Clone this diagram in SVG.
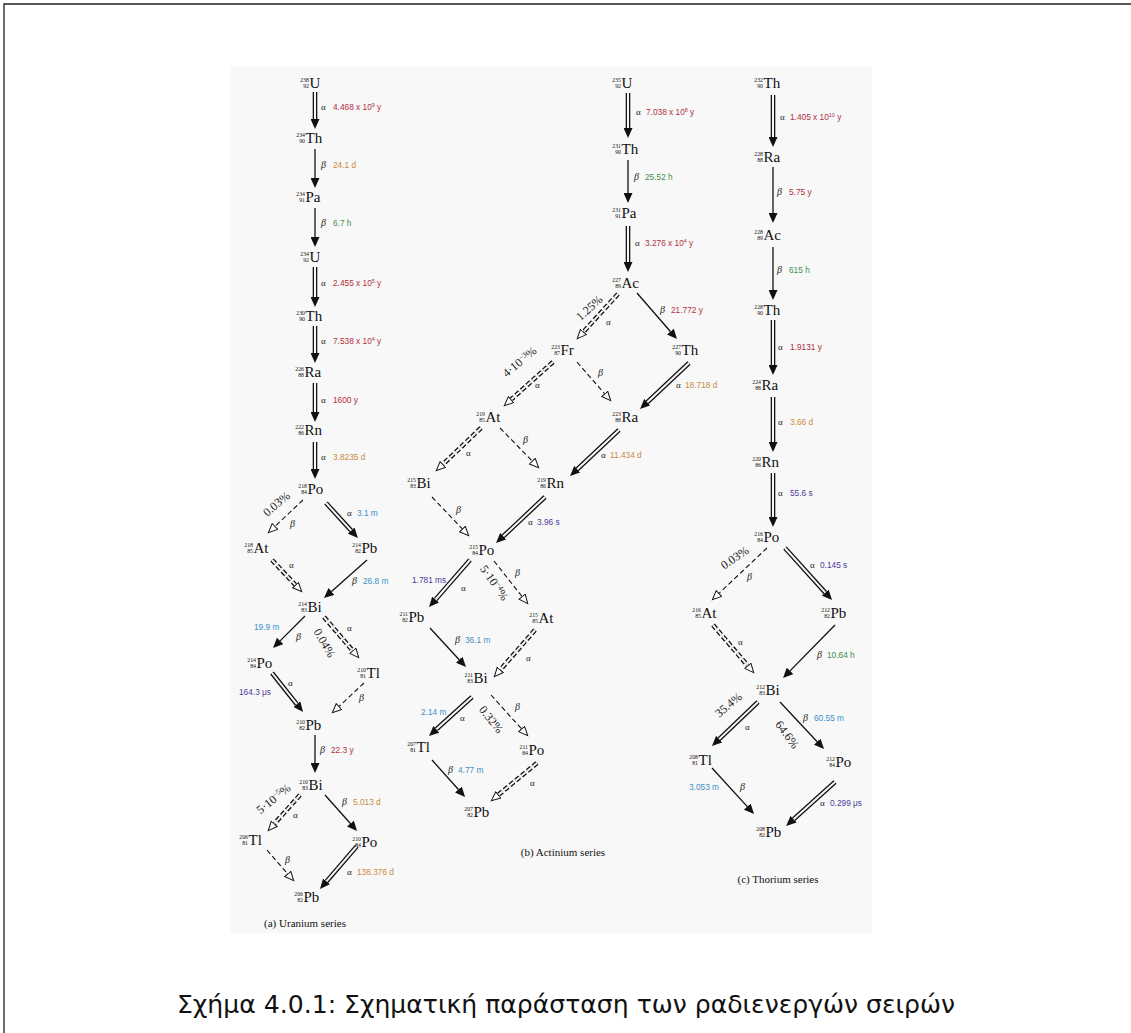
<svg xmlns="http://www.w3.org/2000/svg" width="1131" height="1033" viewBox="0 0 1131 1033">
<style>
.s{font-family:"Liberation Serif",serif;font-size:15px;fill:#111}
.m,.z{font-family:"Liberation Serif",serif;font-size:5.8px;text-anchor:end;fill:#111}
.g{font-family:"Liberation Serif",serif;font-size:9px;fill:#222}
.gb{font-family:"Liberation Serif",serif;font-size:10px;font-style:italic;fill:#222}
.t{font-family:"Liberation Sans",sans-serif;font-size:8.3px}
.sp{font-size:5.5px}
.r{fill:#b0303c}.o{fill:#c98a3c}.gr{fill:#3f8f4f}.bl{fill:#3b8fc8}.pu{fill:#4b3b9b}
.p{font-family:"Liberation Serif",serif;font-size:12px;text-anchor:middle;fill:#222}
.cap{font-family:"Liberation Serif",serif;font-size:11px;text-anchor:middle;fill:#111}
.ao{stroke:#111;stroke-width:4.6;fill:none;marker-end:url(#hf)}
.ai{stroke:#f8f8f8;stroke-width:2;fill:none}
.aod{stroke:#111;stroke-width:4.6;fill:none;stroke-dasharray:5 2.5;marker-end:url(#ho)}
.aid{stroke:#f8f8f8;stroke-width:2;fill:none;stroke-dasharray:5 2.5}
.b{stroke:#111;stroke-width:1.3;fill:none;marker-end:url(#hf)}
.bd{stroke:#111;stroke-width:1.1;fill:none;stroke-dasharray:5 3;marker-end:url(#ho)}
</style>
<defs>
<marker id="hf" markerUnits="userSpaceOnUse" markerWidth="11" markerHeight="9" refX="0" refY="4.5" orient="auto"><path d="M0,0 L10,4.5 L0,9 z" fill="#111"/></marker>
<marker id="ho" markerUnits="userSpaceOnUse" markerWidth="11" markerHeight="10" refX="0" refY="4.5" orient="auto"><path d="M0.5,0.5 L9.5,4.5 L0.5,8.5 z" fill="#fff" stroke="#111" stroke-width="1"/></marker>
</defs>
<rect x="0" y="0" width="1131" height="1033" fill="#fff"/>
<path d="M4,1033 V4 H1131" fill="none" stroke="#222" stroke-width="1.3"/>
<rect x="230" y="66" width="642" height="867" fill="#f8f8f8"/>

<g id="connectors">
<!-- Uranium -->
<line class="ao" x1="315" y1="92" x2="315" y2="119"/><line class="ai" x1="315" y1="92" x2="315" y2="119"/>
<line class="b" x1="315" y1="149" x2="315" y2="178"/>
<line class="b" x1="315" y1="208" x2="315" y2="237"/>
<line class="ao" x1="315" y1="267" x2="315" y2="297"/><line class="ai" x1="315" y1="267" x2="315" y2="297"/>
<line class="ao" x1="315" y1="326" x2="315" y2="353"/><line class="ai" x1="315" y1="326" x2="315" y2="353"/>
<line class="ao" x1="315" y1="383" x2="315" y2="412"/><line class="ai" x1="315" y1="383" x2="315" y2="412"/>
<line class="ao" x1="315" y1="442" x2="315" y2="469"/><line class="ai" x1="315" y1="442" x2="315" y2="469"/>
<line class="bd" x1="303" y1="500" x2="275.3" y2="526.1"/>
<line class="ao" x1="326" y1="503" x2="351.2" y2="530.6"/><line class="ai" x1="326" y1="503" x2="351.2" y2="530.6"/>
<line class="aod" x1="272" y1="560" x2="295.2" y2="584.7"/><line class="aid" x1="272" y1="560" x2="295.2" y2="584.7"/>
<line class="b" x1="367" y1="560" x2="331.5" y2="591.4"/>
<line class="b" x1="305" y1="616" x2="280.1" y2="640.9"/>
<line class="aod" x1="324" y1="617" x2="352.5" y2="650.4"/><line class="aid" x1="324" y1="617" x2="352.5" y2="650.4"/>
<line class="ao" x1="272" y1="673" x2="296.8" y2="704.2"/><line class="ai" x1="272" y1="673" x2="296.8" y2="704.2"/>
<line class="bd" x1="364" y1="683" x2="339.3" y2="706.2"/>
<line class="b" x1="315" y1="735" x2="315" y2="763"/>
<line class="aod" x1="300" y1="795" x2="274.6" y2="823.5"/><line class="aid" x1="300" y1="795" x2="274.6" y2="823.5"/>
<line class="b" x1="325" y1="795" x2="350.4" y2="823.5"/>
<line class="bd" x1="267" y1="850" x2="287.4" y2="873.5"/>
<line class="ao" x1="357" y1="846" x2="326.5" y2="881.4"/><line class="ai" x1="357" y1="846" x2="326.5" y2="881.4"/>
<!-- Actinium -->
<line class="ao" x1="628" y1="93" x2="628" y2="128"/><line class="ai" x1="628" y1="93" x2="628" y2="128"/>
<line class="b" x1="628" y1="160" x2="628" y2="193"/>
<line class="ao" x1="628" y1="226" x2="628" y2="262"/><line class="ai" x1="628" y1="226" x2="628" y2="262"/>
<line class="aod" x1="618" y1="294" x2="583.7" y2="331.6"/><line class="aid" x1="618" y1="294" x2="583.7" y2="331.6"/>
<line class="b" x1="637" y1="293" x2="670.4" y2="331.5"/>
<line class="aod" x1="553" y1="362" x2="511.4" y2="399.3"/><line class="aid" x1="553" y1="362" x2="511.4" y2="399.3"/>
<line class="bd" x1="577" y1="362" x2="604.4" y2="393.5"/>
<line class="ao" x1="689" y1="363" x2="647.3" y2="402.2"/><line class="ai" x1="689" y1="363" x2="647.3" y2="402.2"/>
<line class="aod" x1="481" y1="428" x2="443.2" y2="464.1"/><line class="aid" x1="481" y1="428" x2="443.2" y2="464.1"/>
<line class="bd" x1="500" y1="428" x2="532" y2="460.8"/>
<line class="ao" x1="619" y1="430" x2="577.3" y2="469.2"/><line class="ai" x1="619" y1="430" x2="577.3" y2="469.2"/>
<line class="bd" x1="432" y1="497" x2="462.1" y2="528.7"/>
<line class="ao" x1="545" y1="497" x2="503.3" y2="536.2"/><line class="ai" x1="545" y1="497" x2="503.3" y2="536.2"/>
<line class="ao" x1="470" y1="560" x2="435.6" y2="599.5"/><line class="ai" x1="470" y1="560" x2="435.6" y2="599.5"/>
<line class="bd" x1="494" y1="561" x2="521.8" y2="596.2"/>
<line class="b" x1="430" y1="628" x2="459.2" y2="659.7"/>
<line class="aod" x1="535" y1="630" x2="500.6" y2="669.5"/><line class="aid" x1="535" y1="630" x2="500.6" y2="669.5"/>
<line class="ao" x1="472" y1="697" x2="436.4" y2="729.3"/><line class="ai" x1="472" y1="697" x2="436.4" y2="729.3"/>
<line class="bd" x1="491" y1="695" x2="521.3" y2="728.6"/>
<line class="b" x1="432" y1="760" x2="458.4" y2="789.5"/>
<line class="aod" x1="537" y1="763" x2="498.7" y2="794.6"/><line class="aid" x1="537" y1="763" x2="498.7" y2="794.6"/>
<!-- Thorium -->
<line class="ao" x1="773" y1="95" x2="773" y2="137"/><line class="ai" x1="773" y1="95" x2="773" y2="137"/>
<line class="b" x1="773" y1="167" x2="773" y2="213"/>
<line class="b" x1="773" y1="247" x2="773" y2="290"/>
<line class="ao" x1="773" y1="320" x2="773" y2="365"/><line class="ai" x1="773" y1="320" x2="773" y2="365"/>
<line class="ao" x1="773" y1="397" x2="773" y2="442"/><line class="ai" x1="773" y1="397" x2="773" y2="442"/>
<line class="ao" x1="773" y1="473" x2="773" y2="517"/><line class="ai" x1="773" y1="473" x2="773" y2="517"/>
<line class="bd" x1="767" y1="548" x2="719.3" y2="593.1"/>
<line class="ao" x1="785" y1="548" x2="825.3" y2="592.6"/><line class="ai" x1="785" y1="548" x2="825.3" y2="592.6"/>
<line class="aod" x1="713" y1="625" x2="747.5" y2="665.4"/><line class="aid" x1="713" y1="625" x2="747.5" y2="665.4"/>
<line class="b" x1="835" y1="625" x2="790" y2="670.9"/>
<line class="ao" x1="758" y1="702" x2="719.2" y2="739.1"/><line class="ai" x1="758" y1="702" x2="719.2" y2="739.1"/>
<line class="b" x1="780" y1="702" x2="817.2" y2="741.7"/>
<line class="b" x1="712" y1="768" x2="747.3" y2="806.6"/>
<line class="ao" x1="835" y1="782" x2="793.6" y2="819.2"/><line class="ai" x1="835" y1="782" x2="793.6" y2="819.2"/>
</g>

<g id="connector-labels">
<!-- Uranium -->
<text class="g" x="321" y="110">α</text><text class="t r" x="333" y="110">4.468 x 10<tspan class="sp" dy="-3">9</tspan><tspan dy="3"> y</tspan></text>
<text class="gb" x="321" y="168">β</text><text class="t o" x="333" y="168">24.1 d</text>
<text class="gb" x="321" y="226">β</text><text class="t gr" x="333" y="226">6.7 h</text>
<text class="g" x="321" y="286">α</text><text class="t r" x="333" y="286">2.455 x 10<tspan class="sp" dy="-3">5</tspan><tspan dy="3"> y</tspan></text>
<text class="g" x="321" y="344">α</text><text class="t r" x="333" y="344">7.538 x 10<tspan class="sp" dy="-3">4</tspan><tspan dy="3"> y</tspan></text>
<text class="g" x="321" y="403">α</text><text class="t r" x="333" y="403">1600 y</text>
<text class="g" x="321" y="460">α</text><text class="t o" x="333" y="460">3.8235 d</text>
<text class="p" transform="translate(279,507) rotate(-40)">0.03%</text>
<text class="gb" x="290" y="527">β</text>
<text class="g" x="347" y="516">α</text><text class="t bl" x="357" y="516">3.1 m</text>
<text class="g" x="289" y="568">α</text>
<text class="gb" x="352" y="584">β</text><text class="t bl" x="363" y="584">26.8 m</text>
<text class="t bl" x="254" y="630">19.9 m</text>
<text class="gb" x="296" y="640">β</text>
<text class="p" transform="translate(321,645) rotate(60)">0.04%</text>
<text class="g" x="347" y="631">α</text>
<text class="t pu" x="239" y="695">164.3 μs</text>
<text class="g" x="288" y="686">α</text>
<text class="gb" x="359" y="701">β</text>
<text class="gb" x="320" y="753">β</text><text class="t r" x="331" y="753">22.3 y</text>
<text class="p" transform="translate(276,802) rotate(-39)">5·10<tspan font-size="7.5" dy="-4">−5</tspan><tspan dy="4">%</tspan></text>
<text class="g" x="293" y="818">α</text>
<text class="gb" x="342" y="805">β</text><text class="t o" x="353" y="805">5.013 d</text>
<text class="gb" x="285" y="863">β</text>
<text class="g" x="347" y="875">α</text><text class="t o" x="357" y="875">138.376 d</text>
<!-- Actinium -->
<text class="g" x="636" y="115">α</text><text class="t r" x="646" y="115">7.038 x 10<tspan class="sp" dy="-3">8</tspan><tspan dy="3"> y</tspan></text>
<text class="gb" x="634" y="180">β</text><text class="t gr" x="645" y="180">25.52 h</text>
<text class="g" x="635" y="246">α</text><text class="t r" x="645" y="246">3.276 x 10<tspan class="sp" dy="-3">4</tspan><tspan dy="3"> y</tspan></text>
<text class="p" transform="translate(592,311) rotate(-42)">1.25%</text>
<text class="g" x="606" y="325">α</text>
<text class="gb" x="660" y="313">β</text><text class="t r" x="671" y="313">21.772 y</text>
<text class="p" transform="translate(522,365) rotate(-40)">4·10<tspan font-size="7.5" dy="-4">−3</tspan><tspan dy="4">%</tspan></text>
<text class="g" x="535" y="388">α</text>
<text class="gb" x="598" y="376">β</text>
<text class="g" x="676" y="388">α</text><text class="t o" x="685" y="388">18.718 d</text>
<text class="g" x="466" y="456">α</text>
<text class="gb" x="523" y="443">β</text>
<text class="g" x="601" y="458">α</text><text class="t o" x="610" y="458">11.434 d</text>
<text class="gb" x="456" y="513">β</text>
<text class="g" x="528" y="525">α</text><text class="t pu" x="537" y="525">3.96 s</text>
<text class="t pu" x="412" y="583">1.781 ms</text>
<text class="g" x="461" y="591">α</text>
<text class="p" transform="translate(491,585) rotate(55)">5·10<tspan font-size="7.5" dy="-4">−4</tspan><tspan dy="4">%</tspan></text>
<text class="gb" x="515" y="576">β</text>
<text class="gb" x="455" y="643">β</text><text class="t bl" x="465" y="643">36.1 m</text>
<text class="g" x="526" y="661">α</text>
<text class="t bl" x="421" y="715">2.14 m</text>
<text class="g" x="460" y="721">α</text>
<text class="p" transform="translate(488,722) rotate(52)">0.32%</text>
<text class="gb" x="515" y="710">β</text>
<text class="gb" x="448" y="773">β</text><text class="t bl" x="458" y="773">4.77 m</text>
<text class="g" x="530" y="786">α</text>
<!-- Thorium -->
<text class="g" x="780" y="120">α</text><text class="t r" x="790" y="120">1.405 x 10<tspan class="sp" dy="-3">10</tspan><tspan dy="3"> y</tspan></text>
<text class="gb" x="777" y="195">β</text><text class="t r" x="789" y="195">5.75 y</text>
<text class="gb" x="777" y="273">β</text><text class="t gr" x="789" y="273">615 h</text>
<text class="g" x="778" y="350">α</text><text class="t r" x="790" y="350">1.9131 y</text>
<text class="g" x="778" y="425">α</text><text class="t o" x="790" y="425">3.66 d</text>
<text class="g" x="778" y="496">α</text><text class="t pu" x="790" y="496">55.6 s</text>
<text class="p" transform="translate(737,561) rotate(-34)">0.03%</text>
<text class="gb" x="747" y="580">β</text>
<text class="g" x="810" y="568">α</text><text class="t pu" x="820" y="568">0.145 s</text>
<text class="g" x="738" y="645">α</text>
<text class="gb" x="817" y="658">β</text><text class="t gr" x="827" y="658">10.64 h</text>
<text class="p" transform="translate(731,708) rotate(-40)">35.4%</text>
<text class="g" x="745" y="730">α</text>
<text class="p" transform="translate(784,737) rotate(53)">64.6%</text>
<text class="gb" x="803" y="721">β</text><text class="t bl" x="814" y="721">60.55 m</text>
<text class="t bl" x="689" y="790">3.053 m</text>
<text class="gb" x="740" y="790">β</text>
<text class="g" x="820" y="806">α</text><text class="t pu" x="830" y="806">0.299 μs</text>
</g>

<!-- Uranium nodes -->
<g id="n-u238" transform="translate(300,83)"><text class="m" x="9" y="-1.5">238</text><text class="z" x="9" y="5">92</text><text class="s" x="9.5" y="5">U</text></g>
<g id="n-th234" transform="translate(296,138)"><text class="m" x="9" y="-1.5">234</text><text class="z" x="9" y="5">90</text><text class="s" x="9.5" y="5">Th</text></g>
<g id="n-pa234" transform="translate(296,197)"><text class="m" x="9" y="-1.5">234</text><text class="z" x="9" y="5">91</text><text class="s" x="9.5" y="5">Pa</text></g>
<g id="n-u234" transform="translate(300,257)"><text class="m" x="9" y="-1.5">234</text><text class="z" x="9" y="5">92</text><text class="s" x="9.5" y="5">U</text></g>
<g id="n-th230" transform="translate(296,316)"><text class="m" x="9" y="-1.5">230</text><text class="z" x="9" y="5">90</text><text class="s" x="9.5" y="5">Th</text></g>
<g id="n-ra226" transform="translate(295,372)"><text class="m" x="9" y="-1.5">226</text><text class="z" x="9" y="5">88</text><text class="s" x="9.5" y="5">Ra</text></g>
<g id="n-rn222" transform="translate(295,430)"><text class="m" x="9" y="-1.5">222</text><text class="z" x="9" y="5">86</text><text class="s" x="9.5" y="5">Rn</text></g>
<g id="n-po218" transform="translate(298,489)"><text class="m" x="9" y="-1.5">218</text><text class="z" x="9" y="5">84</text><text class="s" x="9.5" y="5">Po</text></g>
<g id="n-at218" transform="translate(244,548)"><text class="m" x="9" y="-1.5">218</text><text class="z" x="9" y="5">85</text><text class="s" x="9.5" y="5">At</text></g>
<g id="n-pb214" transform="translate(352,548)"><text class="m" x="9" y="-1.5">214</text><text class="z" x="9" y="5">82</text><text class="s" x="9.5" y="5">Pb</text></g>
<g id="n-bi214" transform="translate(298,607)"><text class="m" x="9" y="-1.5">214</text><text class="z" x="9" y="5">83</text><text class="s" x="9.5" y="5">Bi</text></g>
<g id="n-po214" transform="translate(247,663)"><text class="m" x="9" y="-1.5">214</text><text class="z" x="9" y="5">84</text><text class="s" x="9.5" y="5">Po</text></g>
<g id="n-tl210" transform="translate(357,673)"><text class="m" x="9" y="-1.5">210</text><text class="z" x="9" y="5">81</text><text class="s" x="9.5" y="5">Tl</text></g>
<g id="n-pb210" transform="translate(296,725)"><text class="m" x="9" y="-1.5">210</text><text class="z" x="9" y="5">82</text><text class="s" x="9.5" y="5">Pb</text></g>
<g id="n-bi210" transform="translate(299,785)"><text class="m" x="9" y="-1.5">210</text><text class="z" x="9" y="5">83</text><text class="s" x="9.5" y="5">Bi</text></g>
<g id="n-tl206" transform="translate(239,840)"><text class="m" x="9" y="-1.5">206</text><text class="z" x="9" y="5">81</text><text class="s" x="9.5" y="5">Tl</text></g>
<g id="n-po210" transform="translate(352,842)"><text class="m" x="9" y="-1.5">210</text><text class="z" x="9" y="5">84</text><text class="s" x="9.5" y="5">Po</text></g>
<g id="n-pb206" transform="translate(294,897)"><text class="m" x="9" y="-1.5">206</text><text class="z" x="9" y="5">82</text><text class="s" x="9.5" y="5">Pb</text></g>
<!-- Actinium nodes -->
<g id="n-u235" transform="translate(612,83)"><text class="m" x="9" y="-1.5">235</text><text class="z" x="9" y="5">92</text><text class="s" x="9.5" y="5">U</text></g>
<g id="n-th231" transform="translate(612,149)"><text class="m" x="9" y="-1.5">231</text><text class="z" x="9" y="5">90</text><text class="s" x="9.5" y="5">Th</text></g>
<g id="n-pa231" transform="translate(612,213)"><text class="m" x="9" y="-1.5">231</text><text class="z" x="9" y="5">91</text><text class="s" x="9.5" y="5">Pa</text></g>
<g id="n-ac227" transform="translate(612,283)"><text class="m" x="9" y="-1.5">227</text><text class="z" x="9" y="5">89</text><text class="s" x="9.5" y="5">Ac</text></g>
<g id="n-fr223" transform="translate(551,350)"><text class="m" x="9" y="-1.5">223</text><text class="z" x="9" y="5">87</text><text class="s" x="9.5" y="5">Fr</text></g>
<g id="n-th227" transform="translate(672,350)"><text class="m" x="9" y="-1.5">227</text><text class="z" x="9" y="5">90</text><text class="s" x="9.5" y="5">Th</text></g>
<g id="n-at219" transform="translate(476,417)"><text class="m" x="9" y="-1.5">219</text><text class="z" x="9" y="5">85</text><text class="s" x="9.5" y="5">At</text></g>
<g id="n-ra223" transform="translate(612,417)"><text class="m" x="9" y="-1.5">223</text><text class="z" x="9" y="5">88</text><text class="s" x="9.5" y="5">Ra</text></g>
<g id="n-bi215" transform="translate(407,483)"><text class="m" x="9" y="-1.5">215</text><text class="z" x="9" y="5">83</text><text class="s" x="9.5" y="5">Bi</text></g>
<g id="n-rn219" transform="translate(537,483)"><text class="m" x="9" y="-1.5">219</text><text class="z" x="9" y="5">86</text><text class="s" x="9.5" y="5">Rn</text></g>
<g id="n-po215" transform="translate(469,550)"><text class="m" x="9" y="-1.5">215</text><text class="z" x="9" y="5">84</text><text class="s" x="9.5" y="5">Po</text></g>
<g id="n-pb211" transform="translate(399,617)"><text class="m" x="9" y="-1.5">211</text><text class="z" x="9" y="5">82</text><text class="s" x="9.5" y="5">Pb</text></g>
<g id="n-at215" transform="translate(529,618)"><text class="m" x="9" y="-1.5">215</text><text class="z" x="9" y="5">85</text><text class="s" x="9.5" y="5">At</text></g>
<g id="n-bi211" transform="translate(464,678)"><text class="m" x="9" y="-1.5">211</text><text class="z" x="9" y="5">83</text><text class="s" x="9.5" y="5">Bi</text></g>
<g id="n-tl207" transform="translate(407,747)"><text class="m" x="9" y="-1.5">207</text><text class="z" x="9" y="5">81</text><text class="s" x="9.5" y="5">Tl</text></g>
<g id="n-po211" transform="translate(519,750)"><text class="m" x="9" y="-1.5">211</text><text class="z" x="9" y="5">84</text><text class="s" x="9.5" y="5">Po</text></g>
<g id="n-pb207" transform="translate(464,812)"><text class="m" x="9" y="-1.5">207</text><text class="z" x="9" y="5">82</text><text class="s" x="9.5" y="5">Pb</text></g>
<!-- Thorium nodes -->
<g id="n-th232" transform="translate(754,83)"><text class="m" x="9" y="-1.5">232</text><text class="z" x="9" y="5">90</text><text class="s" x="9.5" y="5">Th</text></g>
<g id="n-ra228" transform="translate(754,157)"><text class="m" x="9" y="-1.5">228</text><text class="z" x="9" y="5">88</text><text class="s" x="9.5" y="5">Ra</text></g>
<g id="n-ac228" transform="translate(754,235)"><text class="m" x="9" y="-1.5">228</text><text class="z" x="9" y="5">89</text><text class="s" x="9.5" y="5">Ac</text></g>
<g id="n-th228" transform="translate(754,310)"><text class="m" x="9" y="-1.5">228</text><text class="z" x="9" y="5">90</text><text class="s" x="9.5" y="5">Th</text></g>
<g id="n-ra224" transform="translate(752,385)"><text class="m" x="9" y="-1.5">224</text><text class="z" x="9" y="5">88</text><text class="s" x="9.5" y="5">Ra</text></g>
<g id="n-rn220" transform="translate(752,462)"><text class="m" x="9" y="-1.5">220</text><text class="z" x="9" y="5">86</text><text class="s" x="9.5" y="5">Rn</text></g>
<g id="n-po216" transform="translate(754,537)"><text class="m" x="9" y="-1.5">216</text><text class="z" x="9" y="5">84</text><text class="s" x="9.5" y="5">Po</text></g>
<g id="n-at216" transform="translate(692,613)"><text class="m" x="9" y="-1.5">216</text><text class="z" x="9" y="5">85</text><text class="s" x="9.5" y="5">At</text></g>
<g id="n-pb212" transform="translate(821,613)"><text class="m" x="9" y="-1.5">212</text><text class="z" x="9" y="5">82</text><text class="s" x="9.5" y="5">Pb</text></g>
<g id="n-bi212" transform="translate(756,690)"><text class="m" x="9" y="-1.5">212</text><text class="z" x="9" y="5">83</text><text class="s" x="9.5" y="5">Bi</text></g>
<g id="n-tl208" transform="translate(689,760)"><text class="m" x="9" y="-1.5">208</text><text class="z" x="9" y="5">81</text><text class="s" x="9.5" y="5">Tl</text></g>
<g id="n-po212" transform="translate(826,762)"><text class="m" x="9" y="-1.5">212</text><text class="z" x="9" y="5">84</text><text class="s" x="9.5" y="5">Po</text></g>
<g id="n-pb208" transform="translate(756,832)"><text class="m" x="9" y="-1.5">208</text><text class="z" x="9" y="5">82</text><text class="s" x="9.5" y="5">Pb</text></g>

<g id="captions">
<text class="cap" x="305" y="927">(a) Uranium series</text>
<text class="cap" x="563" y="856">(b) Actinium series</text>
<text class="cap" x="778" y="883">(c) Thorium series</text>
<text x="566" y="1013" text-anchor="middle" font-family="DejaVu Sans, sans-serif" font-size="25" fill="#111" textLength="778" lengthAdjust="spacingAndGlyphs">Σχήμα 4.0.1: Σχηματική παράσταση των ραδιενεργών σειρών</text>
</g>
</svg>
